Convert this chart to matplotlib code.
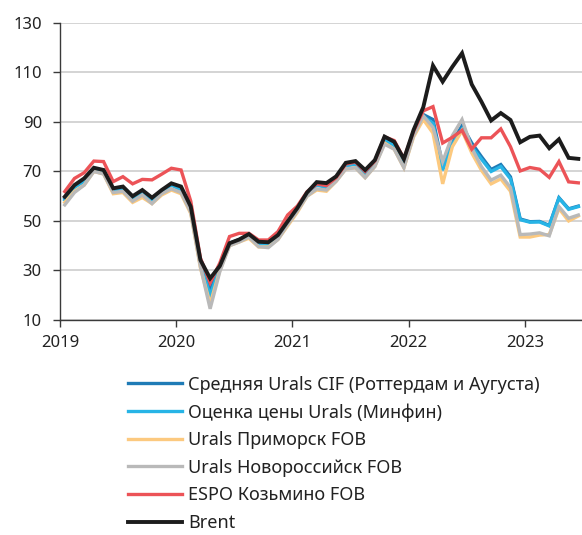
import numpy as np
import matplotlib
matplotlib.use("Agg")
import matplotlib.pyplot as plt

# месячные данные, январь 2019 - июнь 2023, $/барр.
start_year = 2019
n_months = 54

urals_cif = [59.0, 63.8, 66.3, 71.2, 70.3, 62.3, 63.3, 59.0, 61.6, 58.6, 62.3, 64.8,
             63.0, 54.5, 33.0, 22.0, 31.5, 41.0, 42.5, 44.3, 41.0, 40.5, 43.5, 49.5,
             55.0, 61.2, 65.0, 64.0, 67.3, 72.5, 73.3, 69.5, 73.5, 83.0, 81.0, 73.5,
             86.0, 93.0, 91.0, 72.5, 82.0, 88.5, 81.5, 76.0, 70.8, 72.8, 67.8, 50.8,
             49.7, 49.8, 48.2, 59.4, 54.9, 56.0]
urals_minfin = [58.5, 63.5, 66.0, 71.0, 70.0, 62.0, 63.0, 58.8, 61.3, 58.2, 62.0, 64.5,
                62.5, 54.0, 32.5, 20.0, 31.0, 40.5, 42.0, 44.0, 40.5, 40.0, 43.0, 49.0,
                54.5, 61.0, 64.5, 63.5, 67.0, 72.0, 73.0, 69.0, 73.0, 82.5, 80.5, 73.0,
                85.6, 92.2, 89.5, 70.5, 81.0, 87.0, 80.0, 75.0, 70.0, 72.0, 67.0, 50.5,
                49.5, 49.6, 48.0, 59.2, 54.7, 55.8]
urals_primorsk = [57.5, 62.0, 64.5, 70.0, 69.0, 61.0, 61.5, 57.5, 59.5, 57.0, 60.5, 62.5,
                  61.0, 53.0, 31.0, 16.5, 30.0, 40.0, 41.5, 43.0, 39.5, 39.5, 42.5, 48.0,
                  53.5, 60.0, 62.5, 62.0, 66.0, 71.0, 71.5, 67.5, 72.0, 81.5, 79.0, 71.5,
                  84.0, 91.0, 85.5, 65.0, 80.0, 86.5, 77.5, 70.5, 65.0, 67.0, 62.0, 43.5,
                  43.5, 44.3, 44.5, 55.0, 50.0, 52.0]
urals_novoros = [56.5, 61.5, 64.5, 70.0, 69.0, 61.5, 62.0, 58.0, 60.5, 57.0, 61.0, 63.0,
                 61.5, 53.5, 31.5, 14.5, 29.5, 40.0, 41.5, 43.5, 39.6, 39.2, 42.5, 48.5,
                 54.0, 60.0, 63.0, 62.5, 66.0, 71.0, 71.5, 67.5, 72.0, 81.0, 79.0, 71.5,
                 84.5, 92.5, 87.8, 74.0, 84.5, 91.0, 79.5, 72.0, 66.5, 68.5, 63.5, 44.5,
                 44.7, 45.2, 44.0, 55.8, 51.1, 52.4]
espo = [61.9, 67.2, 69.5, 74.2, 74.0, 65.9, 67.9, 65.0, 66.8, 66.6, 68.9, 71.3,
        70.6, 58.0, 35.0, 25.0, 33.0, 43.7, 45.0, 45.0, 42.3, 42.3, 45.7, 52.4,
        56.0, 61.8, 65.0, 64.3, 67.5, 73.0, 73.8, 70.0, 74.3, 84.0, 82.5, 75.2,
        86.3, 94.5, 96.2, 81.5, 83.8, 86.6, 79.0, 83.6, 83.6, 87.2, 80.0, 70.2,
        71.6, 70.9, 67.6, 74.0, 65.8, 65.4]
brent = [59.8, 64.5, 67.2, 71.5, 70.6, 63.2, 63.9, 60.0, 62.5, 59.4, 62.5, 65.2,
         63.9, 55.8, 34.2, 26.8, 31.8, 41.0, 42.5, 44.7, 41.6, 41.4, 44.3, 49.8,
         55.2, 61.5, 65.7, 65.3, 68.0, 73.5, 74.2, 70.6, 74.6, 84.1, 82.0, 75.0,
         86.8, 96.0, 112.8, 106.3, 112.3, 117.8, 105.2, 98.2, 90.6, 93.6, 90.8, 81.8,
         84.0, 84.5, 79.4, 83.0, 75.5, 75.1]

labels = ['Средняя Urals CIF (Роттердам и Аугуста)',
          'Оценка цены Urals (Минфин)',
          'Urals Приморск FOB',
          'Urals Новороссийск FOB',
          'ESPO Козьмино FOB',
          'Brent']
colors = ['#1f7bb6', '#27b4e6', '#fcc97f', '#b9b9b9', '#ec5357', '#1c1c1c']
widths = [2.4, 2.4, 2.4, 2.4, 2.4, 2.8]
years = [2019, 2020, 2021, 2022, 2023]

plt.rcParams['font.family'] = ['Noto Sans', 'DejaVu Sans']

# середина месяца в долях года
x = start_year + (np.arange(n_months) + 0.5) / 12

fig = plt.figure(figsize=(5.82, 5.35), dpi=100)
ax = fig.add_axes([0.103, 0.402, 0.897, 0.555])

series = [urals_cif, urals_minfin, urals_primorsk, urals_novoros, espo, brent]
for vals, lab, col, lw in zip(series, labels, colors, widths):
    ax.plot(x, vals, color=col, lw=lw, label=lab, solid_joinstyle='miter')

ax.set_ylim(10, 130)
ax.set_yticks(range(10, 131, 20))
ax.set_xlim(2019, 2023.49)
ax.set_xticks(years)
ax.set_xticklabels([str(y) for y in years])

ax.grid(axis='y', color='#c9c9c9', lw=1.1)
ax.set_axisbelow(True)
for s in ['top', 'right']:
    ax.spines[s].set_visible(False)
for s in ['left', 'bottom']:
    ax.spines[s].set_color('#3a3a3a')
    ax.spines[s].set_linewidth(1.0)
ax.tick_params(axis='both', colors='#3a3a3a', labelcolor='#222222',
               labelsize=12, length=5, width=1.0)
ax.tick_params(axis='y', pad=8)
ax.tick_params(axis='x', pad=6)

leg = fig.legend(loc='upper left', bbox_to_anchor=(0.22, 0.298),
                 frameon=False, fontsize=13, handlelength=3.0,
                 handletextpad=0.33, labelspacing=0.53, borderaxespad=0,
                 borderpad=0)
for t in leg.get_texts():
    t.set_color('#222222')

fig.savefig('out.png', dpi=100)
